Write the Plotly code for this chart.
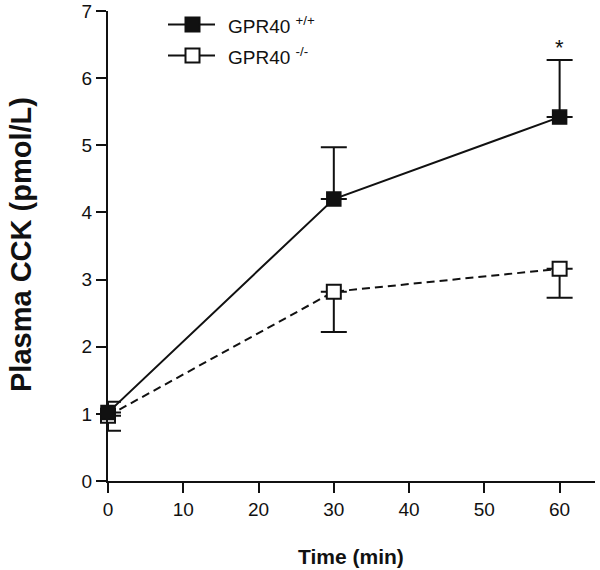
import plotly.graph_objects as go

# Data
time_min = [0, 30, 60]
wt_mean = [1.02, 4.20, 5.42]
wt_err_up = [0.16, 0.77, 0.85]
ko_mean = [0.97, 2.82, 3.16]
ko_err_down = [0.22, 0.60, 0.43]
legend_labels = ["GPR40 <sup>+/+</sup>", "GPR40 <sup>-/-</sup>"]
x_ticks = [0, 10, 20, 30, 40, 50, 60]
y_ticks = [0, 1, 2, 3, 4, 5, 6, 7]
sig_x, sig_y, sig_text = 60, 6.45, "*"

FONT = "Arial, Liberation Sans, Helvetica, sans-serif"
INK = "#111111"

fig = go.Figure()

# GPR40 -/- (dashed, open squares, error down)
fig.add_trace(go.Scatter(
    x=time_min, y=ko_mean, mode="lines+markers",
    line=dict(color=INK, width=2, dash="8px,5px"),
    marker=dict(symbol="square", size=14, color="white", line=dict(color=INK, width=2)),
    error_y=dict(type="data", symmetric=False, array=[0, 0, 0], arrayminus=ko_err_down,
                 color=INK, thickness=2, width=13),
    cliponaxis=False, showlegend=False,
))
# GPR40 +/+ (solid, filled squares, error up)
fig.add_trace(go.Scatter(
    x=time_min, y=wt_mean, mode="lines+markers",
    line=dict(color=INK, width=2),
    marker=dict(symbol="square", size=14, color=INK, line=dict(color=INK, width=1.5)),
    error_y=dict(type="data", symmetric=False, array=wt_err_up, arrayminus=[0, 0, 0],
                 color=INK, thickness=2, width=13),
    cliponaxis=False, showlegend=False,
))

# significance marker
fig.add_annotation(x=sig_x, y=sig_y, text=sig_text, showarrow=False,
                   font=dict(family=FONT, size=22, color=INK), yanchor="middle")

# plot area on the page: x 108..595 px, y 11..481 px
def px_x(p):
    return (p - 108) / 487.0

def px_y(p):
    return (481 - p) / 470.0

rows = [(24.5, INK), (55.5, "white")]
for (ry, fill), label in zip(rows, legend_labels):
    fig.add_shape(type="line", xref="paper", yref="paper",
                  x0=px_x(168), x1=px_x(215), y0=px_y(ry), y1=px_y(ry),
                  line=dict(color=INK, width=2))
    fig.add_shape(type="rect", xref="paper", yref="paper",
                  xsizemode="pixel", ysizemode="pixel",
                  xanchor=px_x(192.5), yanchor=px_y(ry),
                  x0=-7, x1=7, y0=-7, y1=7,
                  fillcolor=fill, line=dict(color=INK, width=2))
    fig.add_annotation(xref="paper", yref="paper", x=px_x(226), y=px_y(ry),
                       xanchor="left", yanchor="middle", showarrow=False, text=label,
                       font=dict(family=FONT, size=19, color=INK))

# axis titles as annotations
fig.add_annotation(xref="paper", yref="paper", x=px_x(351), y=px_y(556),
                   text="<b>Time (min)</b>", showarrow=False, xanchor="center", yanchor="middle",
                   font=dict(size=21, family=FONT, color=INK))
fig.add_annotation(xref="paper", yref="paper", x=px_x(21), y=px_y(245),
                   text="<b>Plasma CCK (pmol/L)</b>", showarrow=False, textangle=-90,
                   xanchor="center", yanchor="middle",
                   font=dict(size=29, family=FONT, color=INK))

fig.update_layout(
    template="none",
    width=600, height=570,
    margin=dict(l=108, r=5, t=11, b=89, autoexpand=False),
    paper_bgcolor="white", plot_bgcolor="white",
    font=dict(family=FONT, color=INK),
    showlegend=False,
    xaxis=dict(range=[0, 64.7], tickvals=x_ticks, ticks="outside", ticklen=10,
               tickwidth=2, tickcolor=INK, showline=True, linecolor=INK, linewidth=2,
               showgrid=False, zeroline=False, automargin=False, ticklabeloverflow="allow",
               tickfont=dict(size=19, family=FONT, color=INK)),
    yaxis=dict(range=[0, 7], tickvals=y_ticks, ticks="outside", ticklen=10,
               tickwidth=2, tickcolor=INK, showline=True, linecolor=INK, linewidth=2,
               showgrid=False, zeroline=False, automargin=False, ticklabeloverflow="allow",
               tickfont=dict(size=19, family=FONT, color=INK)),
)

fig.write_html("out.html",
               config={"displayModeBar": False},
               post_script="document.body.style.margin='0px';document.body.style.overflow='hidden';")
